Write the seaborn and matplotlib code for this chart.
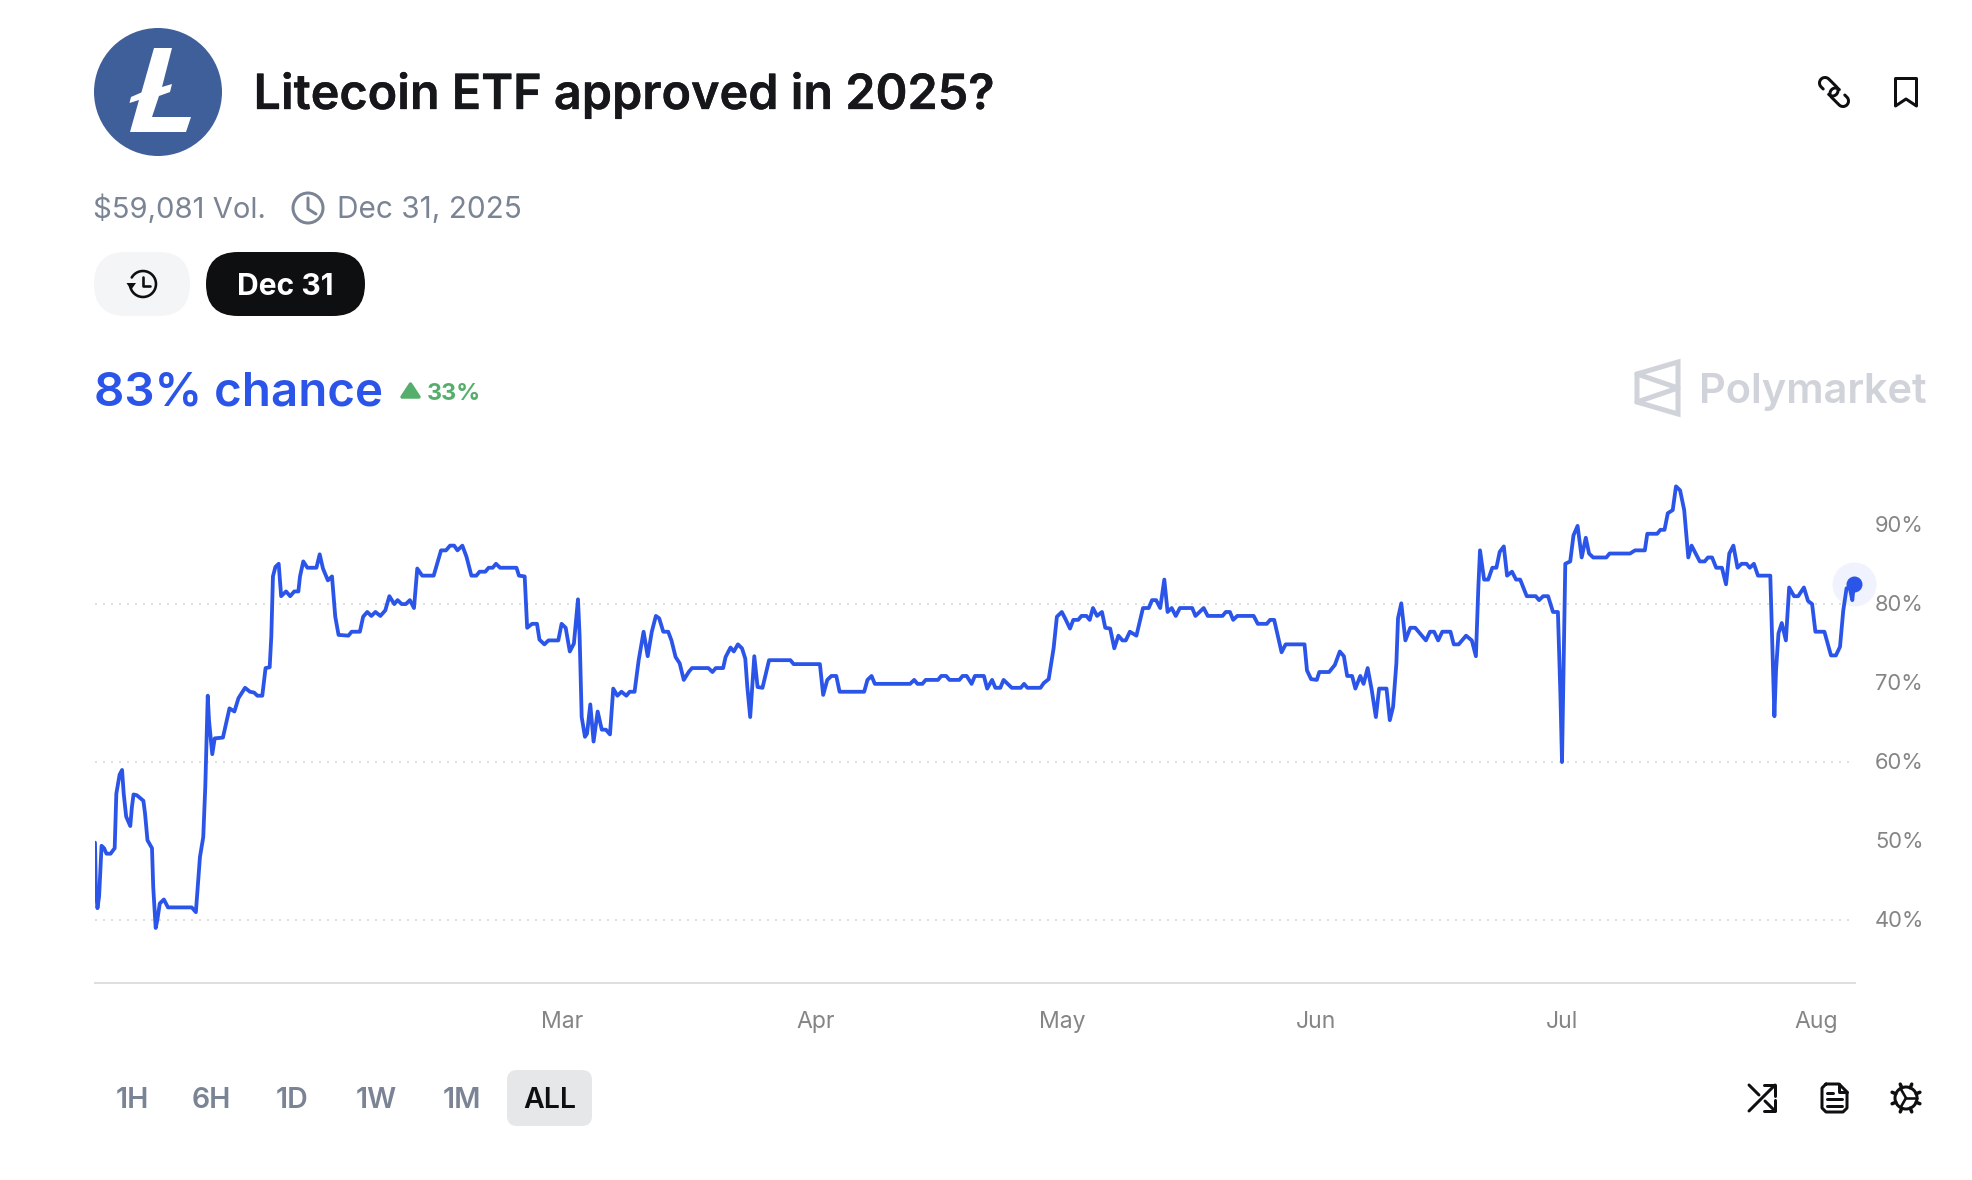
import numpy as np
import pandas as pd
import matplotlib
matplotlib.use("Agg")
import matplotlib.pyplot as plt
import matplotlib.patheffects as pe
from matplotlib.patches import Circle, FancyBboxPatch, Polygon
from matplotlib.transforms import ScaledTranslation
import seaborn as sns

# days since the first trade, chance in percent
days = [0, 0.1, 0.3, 0.5, 0.8, 1.1, 1.4, 1.9, 2.4, 2.6, 3.0, 3.3, 3.5, 3.8, 4.3, 4.5, 4.7, 5.1, 5.9, 6.1,
        6.4, 6.95, 7.1, 7.4, 7.6, 7.9, 8.4, 8.9, 11.8, 12.3, 12.5, 12.8, 13.2, 13.45, 13.75, 13.9, 14.3, 14.6, 15.6, 16.4,
        17, 17.5, 18.3, 18.9, 19.4, 19.8, 20.4, 20.8, 21.3, 21.5, 21.7, 22, 22.4, 22.7, 23.3, 23.8, 24.3, 24.8, 25, 25.4,
        25.9, 27, 27.4, 27.8, 28.4, 28.9, 29.3, 29.7, 30.9, 31.3, 32.3, 32.7, 33.2, 33.7, 34.2, 34.8, 35.4, 35.9, 36.5, 36.9,
        37.4, 37.9, 38.4, 38.9, 39.3, 39.9, 41.3, 42.2, 42.8, 43.3, 43.8, 44.2, 44.8, 45.3, 45.9, 46.5, 46.9, 47.6, 48, 48.5,
        48.9, 49.4, 51.4, 51.7, 52.4, 52.7, 53.3, 53.9, 54.2, 54.8, 55.3, 56.5, 56.9, 57.4, 57.9, 58.4, 58.9, 59.1, 59.35, 59.75,
        60, 60.4, 60.8, 61.3, 61.8, 62.3, 62.8, 63.2, 63.7, 64.2, 64.8, 65.2, 65.8, 66.3, 66.9, 67.4, 67.9, 68.4, 68.8, 69.3,
        69.9, 70.3, 70.8, 71.3, 71.8, 72.4, 72.8, 74.8, 75.3, 75.7, 76.6, 76.9, 77.5, 77.9, 78.4, 78.9, 79.3, 79.55, 79.9, 80.1,
        80.4, 80.8, 81.4, 82.2, 84.8, 85.2, 88.4, 88.8, 89.3, 89.8, 90.4, 90.8, 93.8, 94.2, 94.7, 95.1, 99.4, 99.9, 100.3, 100.9,
        101.3, 102.8, 103.2, 103.8, 104.2, 105.4, 105.8, 106.3, 106.9, 107.3, 108.4, 108.8, 109.4, 109.8, 110.4, 110.8, 111.8, 112.9, 113.3, 113.7,
        115.3, 115.7, 116.3, 116.9, 117.3, 117.9, 118.3, 118.9, 119.3, 119.9, 120.3, 120.9, 121.3, 121.7, 122.2, 122.8, 123.2, 123.8, 124.3, 124.8,
        125.3, 125.7, 126.2, 127, 127.8, 128.5, 128.9, 129.4, 129.9, 130.4, 130.8, 131.3, 131.8, 132.3, 133.8, 134.2, 135.2, 135.7, 137.5, 137.9,
        138.4, 138.8, 139.3, 141.3, 141.8, 142.9, 143.3, 143.8, 144.7, 145.2, 147.5, 147.8, 148.3, 149, 149.3, 150.5, 151.2, 151.8, 152.3, 152.7,
        153.3, 153.7, 154.3, 154.7, 155.2, 155.7, 156.2, 156.6, 157.5, 157.9, 158.3, 158.7, 158.9, 159.3, 159.8, 160.4, 161, 162.3, 162.8, 163.3,
        163.8, 164.3, 165.3, 165.7, 166.3, 167.2, 167.9, 168.4, 168.7, 168.9, 169.4, 169.9, 170.4, 170.9, 171.3, 171.8, 172.2, 172.8, 173.3, 173.8,
        174.6, 175.7, 176.1, 176.6, 177.2, 177.8, 178.4, 178.7, 178.9, 179.1, 179.3, 179.9, 180.3, 180.8, 181.3, 181.8, 182.2, 182.7, 184.3, 184.7,
        187.2, 187.8, 189, 189.3, 190.5, 190.9, 191.4, 191.8, 192.4, 192.8, 193.3, 193.8, 194.3, 194.7, 195.7, 196.3, 196.7, 197.2, 197.7, 198.4,
        198.9, 199.3, 199.8, 200.3, 200.8, 201.4, 201.8, 202.3, 202.8, 204.3, 204.6, 204.8, 205.0, 205.3, 205.7, 206.2, 206.6, 207.2, 207.7, 208.4,
        208.9, 209.4, 209.8, 210.9, 211.7, 212.3, 212.8, 213.2, 213.6, 214, 214.3, 214.5]
chance = [49.8, 44.2, 41.5, 43, 49.4, 49.1, 48.4, 48.4, 49.1, 56, 58.4, 59, 56, 53.1, 51.9, 54.3, 55.9, 55.8, 55.1, 53.5,
          50.1, 49.1, 44.2, 39, 40, 42.1, 42.6, 41.6, 41.6, 41, 43.8, 48, 50.5, 56.9, 68.4, 65.3, 61, 63, 63.1, 66.8,
          66.4, 68.1, 69.4, 68.9, 68.8, 68.4, 68.4, 71.9, 72, 75.9, 83.5, 84.7, 85.1, 81, 81.6, 81, 81.6, 81.6, 83.5, 85.4,
          84.6, 84.6, 86.3, 84.5, 83, 83.5, 78.4, 76.1, 76, 76.5, 76.5, 78.4, 79, 78.5, 79, 78.5, 79.2, 81, 80, 80.5,
          80, 80, 80.5, 79.5, 84.5, 83.6, 83.6, 86.8, 86.8, 87.4, 87.4, 86.8, 87.4, 86, 83.6, 83.6, 84.1, 84.1, 84.6, 84.6,
          85.1, 84.6, 84.6, 83.6, 83.5, 77, 77.5, 77.5, 75.5, 74.9, 75.4, 75.4, 77.5, 77, 74, 75, 80.6, 75.9, 65.7, 63.2,
          63.6, 67.3, 62.6, 66.4, 64.1, 64.1, 63.5, 69.3, 68.4, 68.9, 68.4, 68.9, 68.9, 72.9, 76.5, 73.4, 76.5, 78.5, 78.2, 76.5,
          76.5, 75.4, 73.3, 72.5, 70.4, 71.4, 71.9, 71.9, 71.4, 71.9, 71.9, 73.3, 74.5, 74, 74.9, 74.4, 73.1, 69.5, 65.7, 68.7,
          73.4, 69.5, 69.4, 72.9, 72.9, 72.4, 72.4, 68.5, 70.4, 70.9, 70.9, 68.9, 68.9, 70.4, 70.9, 69.9, 69.9, 70.4, 69.9, 69.9,
          70.4, 70.4, 70.9, 70.9, 70.4, 70.4, 70.9, 70.9, 69.9, 70.9, 70.9, 69.3, 70.4, 69.4, 69.4, 70.4, 69.4, 69.4, 69.9, 69.4,
          69.4, 70, 70.5, 74.4, 78.4, 79, 78.2, 76.9, 78, 78, 78.5, 78.5, 78, 79.5, 78.5, 79, 77, 76.9, 74.4, 76,
          75.4, 75.4, 76.5, 76, 79.5, 79.5, 80.5, 80.5, 79.5, 83.1, 79, 79.5, 78.5, 79.5, 79.5, 78.5, 79.5, 78.5, 78.5, 79,
          79, 78, 78.5, 78.5, 77.5, 77.5, 78, 78, 73.9, 74.9, 74.9, 71.6, 70.5, 70.4, 71.4, 71.4, 72.3, 74, 73.4, 70.9,
          70.9, 69.3, 70.9, 69.9, 71.9, 69.1, 65.7, 69.3, 69.3, 65.3, 67, 72.5, 78.2, 80.1, 75.4, 77, 77, 75.4, 76.5, 76.5,
          75.4, 76.5, 76.5, 74.9, 74.9, 76, 75.4, 73.4, 82.2, 86.8, 83.1, 83.1, 84.6, 84.6, 86.6, 87.3, 83.6, 84.1, 83.1, 83.1,
          81, 81, 80.5, 81, 81, 79, 79, 68.7, 60, 72.9, 85.1, 85.4, 88.7, 89.9, 85.9, 88.4, 86.4, 85.9, 85.9, 86.4,
          86.4, 86.8, 86.8, 88.9, 88.9, 89.4, 89.4, 91.5, 91.9, 94.9, 94.4, 91.9, 85.9, 87.4, 85.4, 85.4, 85.9, 85.9, 84.6, 84.6,
          82.5, 86.4, 87.4, 84.6, 85.1, 85.1, 84.6, 85.1, 83.6, 83.6, 72.9, 65.8, 71.6, 76.3, 77.6, 75.4, 82.1, 81, 81, 82.1,
          80.4, 80, 76.5, 76.5, 73.5, 73.5, 74.6, 79.2, 82, 82, 80.5, 82.5]

month_days = [56.95, 87.85, 118.0, 148.85, 178.9, 209.9]
month_labels = ["Mar", "Apr", "May", "Jun", "Jul", "Aug"]
pct_ticks = [40, 50, 60, 70, 80, 90]
grid_levels = [40, 60, 80]
range_labels = ["1H", "6H", "1D", "1W", "1M", "ALL"]

BLUE = "#2b55e8"
GREY = "#7b8494"
TICK = "#858585"
INK = "#0e0f11"
WATERMARK = "#d1d3da"
FONT = "Inter"

sns.set_theme(style="white")
plt.rcParams["font.family"] = [FONT, "DejaVu Sans"]

W, H = 1972, 1180
fig = plt.figure(figsize=(W / 100, H / 100), dpi=100, facecolor="white")
PX = 0.72  # css pixels to points at dpi 100

# page layer in pixel units, for the header and the icons
ui = fig.add_axes([0, 0, 1, 1])
ui.set_xlim(0, W)
ui.set_ylim(H, 0)
ui.axis("off")

# chart
ax = fig.add_axes([95 / W, 1 - 983 / H, 1760 / W, 523 / H])
ax.patch.set_alpha(0)
df = pd.DataFrame({"day": days, "chance": chance})
for level in grid_levels:
    ax.axhline(level, color="#e0e0e0", lw=2 * PX, ls=(0, (1, 3)), zorder=1)
ax.scatter(days[-1], chance[-1], s=(44 * PX) ** 2, color="#f0f3fe", lw=0, zorder=1.5, clip_on=False)
sns.lineplot(data=df, x="day", y="chance", ax=ax, color=BLUE, linewidth=3.8 * PX, estimator=None, sort=False,
             solid_joinstyle="round", zorder=3)
ax.scatter(days[-1], chance[-1], s=(16 * PX) ** 2, color=BLUE, lw=0, zorder=4, clip_on=False)

ax.set_xlim(0, 214.63)
ax.set_ylim(32.03, 98.24)
ax.set_xlabel("")
ax.set_ylabel("")
ax.set_xticks(month_days, month_labels)
ax.set_yticks(pct_ticks, [f"{p}%" for p in pct_ticks])
ax.yaxis.tick_right()
ax.tick_params(axis="x", length=0, pad=20.3, labelsize=23 * PX, labelcolor=TICK)
ax.tick_params(axis="y", length=0, pad=14.5, labelsize=22 * PX, labelcolor=TICK)
nudge = ScaledTranslation(0, 1.5 / 100, fig.dpi_scale_trans)
for tick_label in ax.get_yticklabels():
    tick_label.set_transform(tick_label.get_transform() + nudge)
sns.despine(ax=ax, left=True, right=True, top=True)
ax.spines["bottom"].set_color("#dedede")
ax.spines["bottom"].set_linewidth(2 * PX)


def stroke(xs, ys, color=INK, lw=3):
    ui.plot(xs, ys, color=color, lw=lw * PX, solid_capstyle="round", solid_joinstyle="round")


def pill(x0, y0, x1, y1, color, r):
    ui.add_patch(FancyBboxPatch((x0 + r, y0 + r), x1 - x0 - 2 * r, y1 - y0 - 2 * r,
                                boxstyle=f"round,pad={r},rounding_size={r}", fc=color, ec="none"))


def label(x, y, s, size, color, weight=400, ha="left", embolden=0):
    t = ui.text(x, y, s, fontsize=size * PX, fontweight=weight, color=color, ha=ha, va="baseline")
    if embolden:
        t.set_path_effects([pe.withStroke(linewidth=embolden, foreground=color)])


# coin logo
ui.add_patch(Circle((158, 92), 64, fc="#3f5f9a", ec="none"))
ui.add_patch(Polygon([(154, 48), (172, 48), (162, 87), (172, 84), (170, 92), (159, 96), (152, 117), (191, 117),
                      (186, 132), (130, 132), (139, 100), (129.5, 103), (131, 97), (141.4, 92.5)],
                     fc="white", ec="none"))
label(253.5, 109, "Litecoin ETF approved in 2025?", 48.5, "#15171a", 600, embolden=0.25)

# volume row
label(93, 218, "$59,081 Vol.", 29.2, GREY)
ui.add_patch(Circle((308, 208), 15, fc="none", ec=GREY, lw=3 * PX))
stroke([308, 308, 316], [198, 209, 214], GREY, 3)
label(337, 218, "Dec 31, 2025", 29.8, GREY)

# date pills
pill(94, 252, 190, 316, "#f4f5f6", 32)
pill(206, 252, 365, 316, INK, 32)
label(285.5, 295, "Dec 31", 30, "white", 700, ha="center")
theta = np.radians(np.linspace(-150, 170, 40))
stroke(143 + 13 * np.cos(theta), 284 + 13 * np.sin(theta), INK, 2.6)
ui.add_patch(Polygon([(126.5, 283), (136, 283), (131, 290)], fc=INK, ec="none"))
stroke([143, 143, 150], [277, 286, 286], INK, 2.6)

# headline
label(94, 405, "83% chance", 47.5, BLUE, 600)
ui.add_patch(Polygon([(410.5, 384), (419, 397), (402, 397)], fc="#55ae6b", ec="#55ae6b", lw=2.5, joinstyle="round"))
label(427, 400, "33%", 23.5, "#55ae6b", 700)

# watermark
ui.add_patch(Polygon([(1678, 362), (1678, 414), (1637, 402), (1637, 374)], fc="none", ec=WATERMARK, lw=5 * PX))
stroke([1637, 1678, 1637], [374, 388, 402], WATERMARK, 5)
label(1698.5, 403, "Polymarket", 41.6, WATERMARK, 600)

# link and bookmark
r = 5.5
d = np.array([1, 1]) / np.sqrt(2)
n = np.array([1, -1]) / np.sqrt(2)
a1, b1 = np.array([1825.0, 83.0]), np.array([1832.5, 90.5])
phi = np.linspace(0, np.pi, 20)
round_a = [a1 + r * (np.cos(p) * -n - np.sin(p) * d) for p in phi]
round_b = [b1 + r * (np.cos(p) * n + np.sin(p) * d) for p in phi]
link = np.array([a1 - n * r + d * 3] + round_a + round_b)
centre = np.array([1834.0, 92.0])
stroke(link[:, 0], link[:, 1], INK, 3)
stroke(2 * centre[0] - link[:, 0], 2 * centre[1] - link[:, 1], INK, 3)
ui.add_patch(Polygon([(1895.5, 78.5), (1916.5, 78.5), (1916.5, 106), (1906, 99), (1895.5, 106)], fc="none", ec=INK,
                     lw=3 * PX, joinstyle="round"))

# range buttons
pill(507, 1070, 592, 1126, "#e6e7e9", 10)
for name, cx in zip(range_labels, [132, 211, 292, 376, 462, 550]):
    label(cx, 1108, name, 28.5, INK if name == "ALL" else GREY, 600, ha="center")

# bottom icons
stroke([1749, 1775], [1111, 1085])
stroke([1764, 1775, 1775], [1085, 1085, 1096])
stroke([1749, 1759], [1085, 1095])
stroke([1765, 1775], [1101, 1111])
stroke([1775, 1775, 1764], [1100, 1111, 1111])

stroke([1826, 1839, 1847, 1847, 1843, 1826, 1822, 1822, 1826], [1084, 1084, 1092, 1108, 1112, 1112, 1108, 1088, 1084])
stroke([1839, 1839, 1847], [1084, 1092, 1092])
stroke([1827, 1833], [1093, 1093])
stroke([1827, 1842], [1099, 1099])
stroke([1827, 1842], [1106, 1106])

ui.add_patch(Circle((1906, 1098), 11, fc="none", ec=INK, lw=3 * PX))
for a in np.radians(np.arange(0, 360, 45) + 22.5):
    stroke([1906 + 11 * np.cos(a), 1906 + 15 * np.cos(a)], [1098 + 11 * np.sin(a), 1098 + 15 * np.sin(a)], INK, 3.5)
for a in np.radians([0, 120, 240]):
    stroke([1906, 1906 + 11 * np.cos(a)], [1098, 1098 + 11 * np.sin(a)], INK, 2.6)

fig.savefig("out.png", dpi=100)
